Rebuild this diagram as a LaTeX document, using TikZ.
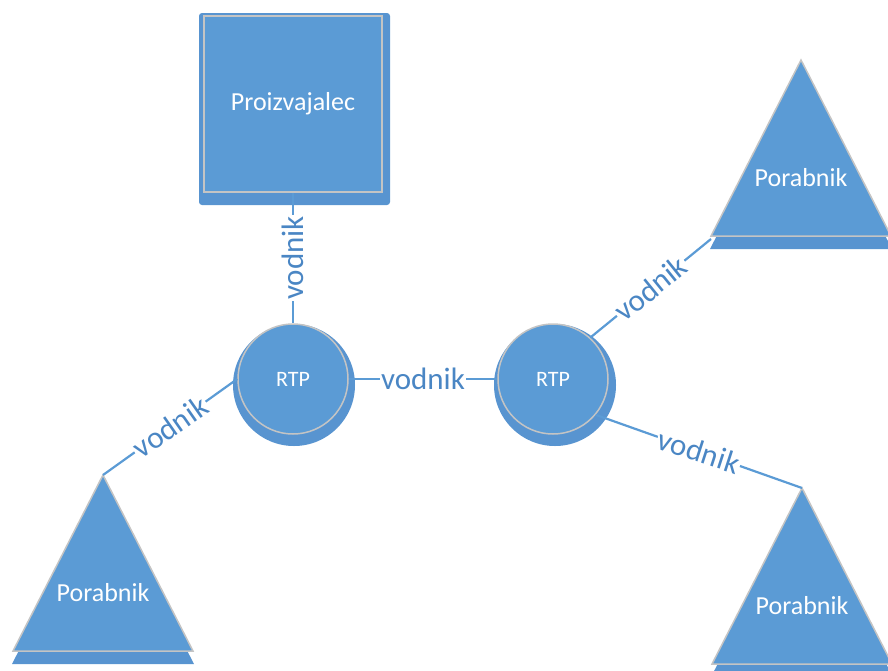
\documentclass[tikz,border=0pt]{standalone}
\usepackage{fontspec}
\setmainfont{Carlito}
\definecolor{boxblue}{HTML}{5B9BD5}
\definecolor{shadeblue}{HTML}{5894D0}
\definecolor{rimgray}{HTML}{C4C4C4}
\definecolor{wireblue}{HTML}{5B9BD5}
\definecolor{labelblue}{HTML}{4A86C4}
\begin{document}
\begin{tikzpicture}[x=1pt,y=-1pt,
  shapetext/.style={text=white, font=\fontsize{26}{30}\selectfont},
  prodbox/.style={rectangle, fill=boxblue, draw=rimgray, line width=1.5pt,
    minimum width=178pt, minimum height=176pt, inner sep=0pt, shapetext},
  hub/.style={circle, fill=boxblue, draw=rimgray, line width=1.5pt,
    minimum size=110pt, inner sep=0pt, text=white,
    font=\fontsize{22}{26}\selectfont},
  wire/.style={draw=wireblue, line width=2.2pt},
  lab/.style={fill=white, inner sep=1.5pt, text=labelblue,
    font=\fontsize{31}{36}\selectfont},
  consumer/.pic={
    \fill[shadeblue] (0,12) -- (-91,189) -- (91,189) -- cycle;
    \filldraw[fill=boxblue, draw=rimgray, line width=1.5pt]
      (0,0) -- (-90,176) -- (90,176) -- cycle;
    \node[shapetext] (-txt) at (0,118) {Porabnik};
    \coordinate (-apex) at (0,0);
    \coordinate (-corner) at (-90,179);
  }]
\useasboundingbox (0,0) rectangle (888,670);

% producer block with its lower shadow band
\fill[shadeblue, rounded corners=3pt] (199,13) rectangle (390,205);
\node[prodbox] (prod) at (293,104) {Proizvajalec};

% the two distribution points
\fill[shadeblue] (294,385) circle[radius=61pt];
\node[hub] (rtp1) at (293,379) {RTP};
\fill[shadeblue] (555,385) circle[radius=61pt];
\node[hub] (rtp2) at (553,379) {RTP};

% consumers
\pic (ctr) at (801,60) {consumer};
\pic (cbl) at (103,475) {consumer};
\pic (cbr) at (802,488) {consumer};

% conductors
\draw[wire] (prod.south) -- node[lab, rotate=90] {vodnik} (rtp1.north);
\draw[wire] (rtp1.east) -- node[lab] {vodnik} (rtp2.west);
\draw[wire] (rtp1.west) -- node[lab, rotate=35] {vodnik} (cbl-apex);
\draw[wire] (rtp2.48) -- node[lab, rotate=39] {vodnik} (ctr-corner);
\draw[wire] (rtp2.-40) -- node[lab, rotate=-18] {vodnik} (cbr-apex);
\end{tikzpicture}
\end{document}
